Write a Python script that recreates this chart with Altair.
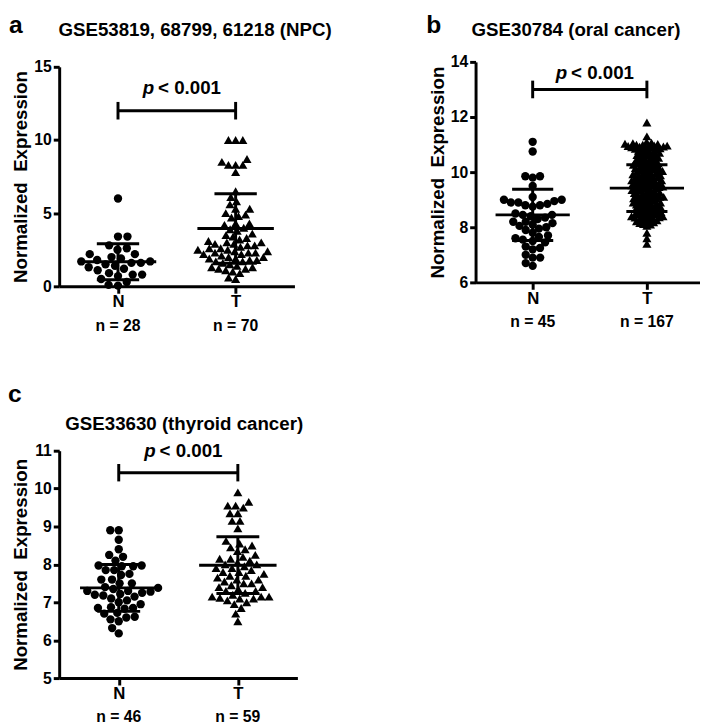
import math
import altair as alt
import pandas as pd

FONT = "Liberation Sans"

# ---------------- data ----------------
groups = ["N", "T"]

a_title = "GSE53819, 68799, 61218 (NPC)"
a_n_labels = ["n = 28", "n = 70"]
a_N = [6.0, 3.4, 3.4, 2.8, 2.6, 2.5, 2.2, 2.2, 2.0, 1.9, 1.8, 1.7, 1.7, 1.6,
       1.6, 1.5, 1.4, 1.3, 1.2, 1.1, 0.9, 0.8, 0.8, 0.7, 0.5, 0.3, 0.1, 0.05]
a_T = [10.0, 10.0, 10.0, 8.7, 8.5, 8.3, 8.3, 8.3, 7.8, 6.5, 6.1, 5.8, 5.6, 5.3,
       5.3, 5.0, 4.9, 4.8, 4.7, 4.3, 4.3, 4.2, 4.0, 3.9, 3.8, 3.6, 3.5, 3.4,
       3.3, 3.2, 3.1, 3.0, 3.0, 2.9, 2.9, 2.8, 2.8, 2.7, 2.6, 2.6, 2.5, 2.5,
       2.4, 2.4, 2.3, 2.3, 2.3, 2.2, 2.2, 2.1, 2.0, 2.0, 1.9, 1.9, 1.8, 1.8,
       1.7, 1.7, 1.6, 1.5, 1.4, 1.3, 1.3, 1.2, 1.2, 1.1, 1.0, 0.9, 0.6, 0.5]
a_mean = [1.68, 3.95]
a_sd = [1.23, 2.37]
a_ticks = [0, 5, 10, 15]

b_title = "GSE30784 (oral cancer)"
b_n_labels = ["n = 45", "n = 167"]
b_N = [11.1, 10.75, 9.85, 9.85, 9.8, 9.5, 9.1, 9.0, 9.0, 8.95, 8.9, 8.9, 8.85,
       8.8, 8.8, 8.75, 8.5, 8.45, 8.45, 8.4, 8.35, 8.3, 8.2, 8.2, 8.15, 8.1,
       8.05, 8.0, 7.95, 7.9, 7.8, 7.7, 7.65, 7.6, 7.55, 7.5, 7.45, 7.3, 7.25,
       7.2, 7.0, 6.9, 6.9, 6.7, 6.6]
b_T = [7.4, 7.6, 7.8, 11.3, 11.8,
       8.05, 8.1, 8.12, 8.15, 8.18, 8.2, 8.22, 8.25, 8.27,
       8.3, 8.3, 8.32, 8.35, 8.36, 8.38, 8.4, 8.42, 8.44,
       8.46, 8.48, 8.5, 8.52, 8.55, 8.57, 8.6, 8.62, 8.64,
       8.66, 8.68, 8.7, 8.72, 8.75, 8.77, 8.8, 8.82, 8.84,
       8.86, 8.88, 8.9, 8.92, 8.95, 8.97, 9.0, 9.02, 9.04,
       9.06, 9.08, 9.1, 9.12, 9.15, 9.17, 9.2, 9.22, 9.24,
       9.26, 9.28, 9.3, 9.32, 9.35, 9.37, 9.4, 9.42, 9.44,
       9.46, 9.48, 9.5, 9.52, 9.55, 9.57, 9.6, 9.62, 9.64,
       9.66, 9.68, 9.7, 9.72, 9.75, 9.77, 9.8, 9.82, 9.84,
       9.86, 9.88, 9.9, 9.92, 9.95, 9.97, 10.0, 10.02, 10.04,
       10.06, 10.08, 10.1, 10.12, 10.15, 10.17, 10.2, 10.22, 10.24,
       10.26, 10.28, 10.3, 10.32, 10.35, 10.37, 10.4, 10.42, 10.44,
       10.46, 10.48, 10.5, 10.52, 10.55, 10.57, 10.6, 10.62, 10.64,
       10.66, 10.68, 10.7, 10.72, 10.75, 10.77, 10.8, 10.82, 10.84,
       10.85, 10.86, 10.88, 10.9, 10.9, 10.92, 10.93, 10.95, 10.96,
       10.97, 10.98, 11.0, 11.0, 11.02, 11.03, 11.05, 11.07, 11.1,
       8.58, 8.74, 8.9, 9.05, 9.18, 9.33, 9.45, 9.58, 9.7,
       9.79, 9.9, 10.03, 10.14, 10.27, 8.4, 8.5, 9.1, 9.5]
b_mean = [8.45, 9.42]
b_sd = [0.93, 0.85]
b_ticks = [6, 8, 10, 12, 14]

c_title = "GSE33630 (thyroid cancer)"
c_n_labels = ["n = 46", "n = 59"]
c_N = [8.9, 8.9, 8.65, 8.4, 8.25, 8.2, 8.1, 7.97, 7.97, 7.95, 7.95, 7.85, 7.85,
       7.75, 7.72, 7.6, 7.6, 7.5, 7.5, 7.4, 7.38, 7.35, 7.3, 7.3, 7.28, 7.25,
       7.22, 7.2, 7.18, 7.15, 7.1, 7.05, 7.0, 6.95, 6.87, 6.85, 6.85, 6.83,
       6.72, 6.7, 6.62, 6.6, 6.55, 6.5, 6.32, 6.18]
c_T = [9.9, 9.65, 9.55, 9.55, 9.5, 9.35, 9.35, 9.15, 9.15, 8.95, 8.62, 8.55,
       8.5, 8.45, 8.4, 8.35, 8.25, 8.2, 8.15, 8.15, 8.1, 8.05, 8.0, 8.0, 7.95,
       7.9, 7.9, 7.85, 7.8, 7.8, 7.75, 7.7, 7.7, 7.65, 7.6, 7.6, 7.55, 7.5,
       7.5, 7.45, 7.4, 7.4, 7.35, 7.3, 7.3, 7.25, 7.2, 7.15, 7.15, 7.15, 7.12,
       7.1, 7.1, 7.05, 7.0, 6.95, 6.85, 6.7, 6.5]
c_mean = [7.38, 7.98]
c_sd = [0.62, 0.75]
c_ticks = [5, 6, 7, 8, 9, 10, 11]

p_label = "< 0.001"


# ---------------- beeswarm layout (pixel collision, converted to data units) ----
def swarm(values, d, xpx, ypx):
    order = sorted(range(len(values)), key=lambda i: values[i])
    placed = []
    offs = [0.0] * len(values)
    for k, i in enumerate(order):
        y = values[i] * ypx
        cands = [0.0]
        for px, py in placed:
            dy = abs(py - y)
            if dy < d:
                dx = math.sqrt(d * d - dy * dy)
                cands += [px - dx, px + dx]
        sgn = 1 if k % 2 == 0 else -1
        cands.sort(key=lambda c: (round(abs(c), 6), -sgn * c))
        chosen = 0.0
        for c in cands:
            if all((c - px) ** 2 + (y - py) ** 2 >= d * d - 1e-6 for px, py in placed):
                chosen = c
                break
        placed.append((chosen, y))
        offs[i] = chosen / xpx
    return offs


def panel(letter, title, N, T, nlabels, means, sds, ydom, yticks,
          br_y, br_h, p_y, dN, dT, W, H, title_pos, letter_pos, shift=0,
          xmax=4.0):
    # shift: how many pixels the plot frame sits above the row's common top
    GH = H - shift
    xpx = W / xmax
    ypx = H / float(ydom[1] - ydom[0])
    offN = swarm(N, dN, xpx, ypx)
    offT = swarm(T, dT, xpx, ypx)
    dfN = pd.DataFrame({"x": [1 + o for o in offN], "y": N})
    dfT = pd.DataFrame({"x": [3 + o for o in offT], "y": T})

    xs = alt.Scale(domain=[0, xmax], nice=False, zero=False)
    ys = alt.Scale(domain=ydom, nice=False, zero=False, range=[GH, -shift])

    xaxis = alt.Axis(values=[1, 3], labelExpr="datum.value == 1 ? 'N' : 'T'",
                     title=None, grid=False, domainColor="black", domainWidth=3,
                     tickColor="black", tickWidth=3, tickSize=7,
                     labelFont=FONT, labelFontSize=17, labelFontWeight="bold",
                     labelColor="black", labelPadding=1)
    yaxis = alt.Axis(values=yticks, title="Normalized\u00a0 Expression",
                     titleFont=FONT, titleFontSize=19, titleFontWeight="bold",
                     titleColor="black", titlePadding=3,
                     labelFont=FONT, labelFontSize=16, labelFontWeight="bold",
                     labelColor="black", labelPadding=2, tickSize=6, tickWidth=3,
                     tickColor="black", domainWidth=3, domainColor="black",
                     grid=False, labelFlush=False, labelOverlap=False)

    def X(f):
        return alt.X(f, scale=xs, axis=xaxis)

    def Y(f):
        return alt.Y(f, scale=ys, axis=yaxis)

    ptsN = alt.Chart(dfN).mark_point(filled=True, opacity=1, color="black",
                                     shape="circle", size=72).encode(
        x=X("x:Q"), y=Y("y:Q"))
    ptsT = alt.Chart(dfT).mark_point(filled=True, opacity=1, color="black",
                                     shape="triangle-up", size=85).encode(
        x=X("x:Q"), y=Y("y:Q"))

    stats = pd.DataFrame({"g": groups, "c": [1, 3], "m": means, "s": sds})
    base = alt.Chart(stats).transform_calculate(
        lo="datum.m - datum.s", hi="datum.m + datum.s",
        ml="datum.c - 0.65", mr="datum.c + 0.65",
        cl="datum.c - 0.36", cr="datum.c + 0.36")
    rule = dict(color="black", strokeWidth=3)
    mean_r = base.mark_rule(**rule).encode(x=X("ml:Q"), x2="mr:Q", y=Y("m:Q"))
    sd_r = base.mark_rule(**rule).encode(x=X("c:Q"), y=Y("lo:Q"), y2="hi:Q")
    cap_hi = base.mark_rule(**rule).encode(x=X("cl:Q"), x2="cr:Q", y=Y("hi:Q"))
    cap_lo = base.mark_rule(**rule).encode(x=X("cl:Q"), x2="cr:Q", y=Y("lo:Q"))

    br = pd.DataFrame({"x": [1, 3], "y": [br_y, br_y]})
    br_v_rule = alt.Chart(br).transform_calculate(
        y1=f"datum.y - {br_h}", y2=f"datum.y + {br_h}").mark_rule(**rule).encode(
        x=X("x:Q"), y=Y("y1:Q"), y2="y2:Q")
    br_h_rule = alt.Chart(pd.DataFrame({"x1": [1], "x2": [3], "y": [br_y]})).mark_rule(
        **rule).encode(x=X("x1:Q"), x2="x2:Q", y=Y("y:Q"))

    pdf = pd.DataFrame({"x": [2], "y": [p_y], "p": ["p"], "t": [p_label]})
    p_it = alt.Chart(pdf).mark_text(font=FONT, fontSize=19, fontWeight="bold",
                                    fontStyle="italic", align="right",
                                    baseline="middle", dx=-23, color="black").encode(
        x=X("x:Q"), y=Y("y:Q"), text="p:N")
    p_tx = alt.Chart(pdf).mark_text(font=FONT, fontSize=19, fontWeight="bold",
                                    align="left", baseline="middle", dx=-19,
                                    color="black").encode(
        x=X("x:Q"), y=Y("y:Q"), text="t:N")

    ndf = pd.DataFrame({"x": [1, 3], "t": nlabels})
    n_tx = alt.Chart(ndf).mark_text(font=FONT, fontSize=16, fontWeight="bold",
                                    align="center", baseline="alphabetic",
                                    color="black").encode(
        x=X("x:Q"), y=alt.value(GH + 45), text="t:N")

    tdf = pd.DataFrame({"t": [title]})
    title_tx = alt.Chart(tdf).mark_text(font=FONT, fontSize=19, fontWeight="bold",
                                        align="center", baseline="alphabetic",
                                        color="black").encode(
        x=alt.value(title_pos[0]), y=alt.value(title_pos[1]), text="t:N")

    ldf = pd.DataFrame({"t": [letter]})
    let_tx = alt.Chart(ldf).mark_text(font=FONT, fontSize=25, fontWeight="bold",
                                      align="left", baseline="alphabetic",
                                      color="black").encode(
        x=alt.value(letter_pos[0]), y=alt.value(letter_pos[1]), text="t:N")

    return alt.layer(ptsN, ptsT, mean_r, sd_r, cap_hi, cap_lo, br_h_rule,
                     br_v_rule, p_it, p_tx, n_tx, title_tx, let_tx).properties(
        width=W, height=GH)


pa = panel("a", a_title, a_N, a_T, a_n_labels, a_mean, a_sd, [0, 15], a_ticks,
           12.0, 0.6, 13.55, 9.6, 7.3, 239, 223, (138, -31), (-51, -34))
pb = panel("b", b_title, b_N, b_T, b_n_labels, b_mean, b_sd, [6, 14], b_ticks,
           13.0, 0.32, 13.6, 7.6, 3.9, 228, 224, (102, -31), (-50, -34), shift=5,
           xmax=3.93)
pc = panel("c", c_title, c_N, c_T, c_n_labels, c_mean, c_sd, [5, 11], c_ticks,
           10.42, 0.23, 11.0, 8.6, 8.0, 242, 231, (127, -21), (-52, -49))

top_row = alt.hconcat(alt.vconcat(pa), alt.vconcat(pb), spacing=96)

chart = alt.vconcat(top_row, alt.vconcat(pc), spacing=50).properties(
    padding=0).configure_view(stroke=None)

chart.save("out.html", embed_options={"renderer": "svg", "actions": False})
